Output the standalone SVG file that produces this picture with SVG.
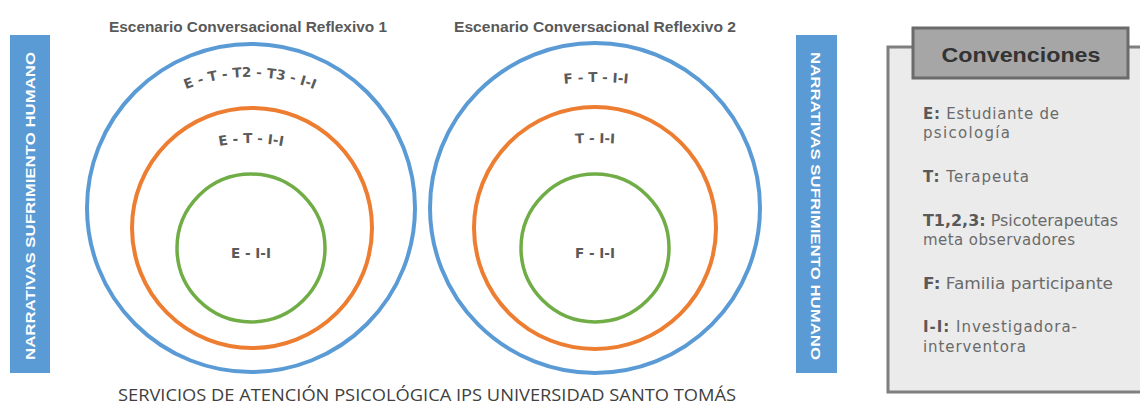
<svg xmlns="http://www.w3.org/2000/svg" width="1140" height="407" viewBox="0 0 1140 407">
<style>
.title{font-family:"Liberation Sans",Arial,sans-serif;font-size:14.5px;font-weight:bold;fill:#595959;text-anchor:middle}
.lbl{font-family:"DejaVu Sans","Liberation Sans",sans-serif;font-size:13.5px;font-weight:bold;fill:#5a5a5a;text-anchor:middle}
.bar{fill:#5b9bd5}
.bartxt{font-family:"Liberation Sans",Arial,sans-serif;font-size:13.5px;font-weight:bold;fill:#ffffff;text-anchor:middle}
.blue{fill:none;stroke:#5b9bd5;stroke-width:4}
.orange{fill:none;stroke:#ed7d31;stroke-width:4}
.green{fill:none;stroke:#70ad47;stroke-width:3.5}
.leg{font-family:"DejaVu Sans","Liberation Sans",sans-serif;font-size:15px;fill:#6a6a6a}
.leg tspan.b{font-weight:bold;fill:#595959}
.foot{font-family:"Open Sans","Liberation Sans",sans-serif;font-size:16px;fill:#404040;text-anchor:middle}
</style>
<defs>
<path id="arcL1" d="M 77,250 A 173,173 0 0 1 423,250"/>
<path id="arcL2" d="M 87,307 A 164,164 0 0 1 415,307"/>
<path id="arcR1" d="M 296,382 A 300,300 0 0 1 896,382"/>
<path id="arcR2" d="M 295,443 A 300,300 0 0 1 895,443"/>
</defs>
<rect width="1140" height="407" fill="#ffffff"/>

<g id="bar-left">
<rect class="bar" x="10" y="35" width="40" height="338"/>
<text class="bartxt" transform="translate(35,206) rotate(-90)" textLength="308" lengthAdjust="spacingAndGlyphs">NARRATIVAS SUFRIMIENTO HUMANO</text>
</g>
<g id="bar-right">
<rect class="bar" x="796" y="35" width="41" height="338"/>
<text class="bartxt" transform="translate(811,206) rotate(90)" textLength="308" lengthAdjust="spacingAndGlyphs">NARRATIVAS SUFRIMIENTO HUMANO</text>
</g>

<g id="scenario1">
<text class="title" x="248" y="32" textLength="278" lengthAdjust="spacingAndGlyphs">Escenario Conversacional Reflexivo 1</text>
<circle class="blue" cx="251" cy="208" r="164"/>
<circle class="orange" cx="252" cy="228" r="120"/>
<circle class="green" cx="251" cy="248" r="74"/>
<text class="lbl"><textPath href="#arcL1" startOffset="50%">E - T - T2 - T3 - I-I</textPath></text>
<text class="lbl"><textPath href="#arcL2" startOffset="50%">E - T - I-I</textPath></text>
<text class="lbl" x="251" y="258">E - I-I</text>
</g>

<g id="scenario2">
<text class="title" x="595" y="32" textLength="282" lengthAdjust="spacingAndGlyphs">Escenario Conversacional Reflexivo 2</text>
<circle class="blue" cx="595" cy="208" r="165"/>
<circle class="orange" cx="595" cy="228" r="121"/>
<circle class="green" cx="595" cy="248" r="74"/>
<text class="lbl"><textPath href="#arcR1" startOffset="50%">F - T - I-I</textPath></text>
<text class="lbl"><textPath href="#arcR2" startOffset="50%">T - I-I</textPath></text>
<text class="lbl" x="595" y="258">F - I-I</text>
</g>

<g id="footer">
<text class="foot" x="427" y="401" textLength="618" lengthAdjust="spacingAndGlyphs">SERVICIOS DE ATENCIÓN PSICOLÓGICA IPS UNIVERSIDAD SANTO TOMÁS</text>
</g>

<g id="legend">
<rect x="888" y="47" width="260" height="345" fill="#ebebeb" stroke="#7f7f7f" stroke-width="3"/>
<rect x="913" y="28" width="215" height="50" fill="#a6a6a6" stroke="#6b6b6b" stroke-width="3"/>
<text x="1021" y="62" font-family="Liberation Sans,Arial,sans-serif" font-size="21" font-weight="bold" fill="#333333" text-anchor="middle" textLength="159" lengthAdjust="spacingAndGlyphs">Convenciones</text>
<text class="leg" x="923" y="119" textLength="136"><tspan class="b">E:</tspan> Estudiante de</text>
<text class="leg" x="923" y="138" textLength="87">psicología</text>
<text class="leg" x="923" y="182" textLength="106"><tspan class="b">T:</tspan> Terapeuta</text>
<text class="leg" x="923" y="226" textLength="195" lengthAdjust="spacingAndGlyphs"><tspan class="b">T1,2,3:</tspan> Psicoterapeutas</text>
<text class="leg" x="923" y="245" textLength="152">meta observadores</text>
<text class="leg" x="923" y="289" textLength="190" lengthAdjust="spacingAndGlyphs"><tspan class="b">F:</tspan> Familia participante</text>
<text class="leg" x="923" y="332" textLength="154"><tspan class="b">I-I:</tspan> Investigadora-</text>
<text class="leg" x="923" y="352" textLength="103">interventora</text>
</g>
</svg>
